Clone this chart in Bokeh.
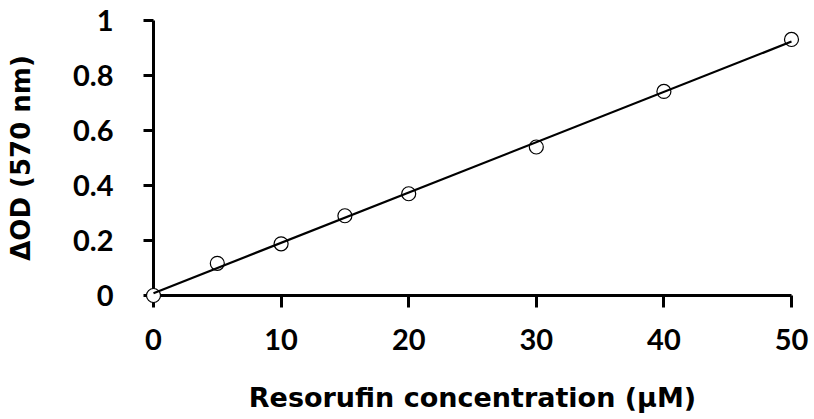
import numpy as np
from bokeh.plotting import figure
from bokeh.models import Range1d, FixedTicker, ColumnDataSource
from bokeh.embed import file_html
from bokeh.resources import INLINE

# Data
conc = [0, 5, 10, 15, 20, 30, 40, 50]
delta_od = [0.0, 0.117, 0.188, 0.29, 0.37, 0.54, 0.742, 0.931]
x_ticks = [0, 10, 20, 30, 40, 50]
y_ticks = [0, 0.2, 0.4, 0.6, 0.8, 1.0]
y_tick_labels = {0: "0", 0.2: "0.2", 0.4: "0.4", 0.6: "0.6", 0.8: "0.8", 1.0: "1"}
x_title = "Resorufin concentration (\u03bcM)"
y_title = "\u0394OD (570 nm)"

slope, intercept = np.polyfit(conc, delta_od, 1)
fit_x = [min(conc), max(conc)]
fit_y = [intercept + slope * v for v in fit_x]

H = 415
TOP = 20
FH = 275

p = figure(width=812, height=H, output_backend="svg", toolbar_location=None,
           x_range=Range1d(0, 50), y_range=Range1d(0, 1),
           min_border_left=153, min_border_top=TOP, min_border_right=21,
           min_border_bottom=H - TOP - FH)
p.outline_line_color = None
p.grid.visible = False
p.background_fill_color = "white"

for ax in (p.xaxis[0], p.yaxis[0]):
    ax.axis_line_width = 3
    ax.axis_line_color = "black"
    ax.major_tick_line_width = 3
    ax.major_tick_line_color = "black"
    ax.major_tick_in = 0
    ax.minor_tick_line_color = None
    ax.major_label_text_font = "Lato"
    ax.major_label_text_font_style = "bold"
    ax.major_label_text_font_size = "29px"
    ax.major_label_text_color = "black"
    ax.axis_label_text_font = "DejaVu Sans"
    ax.axis_label_text_font_style = "bold"
    ax.axis_label_text_color = "black"

p.xaxis[0].major_tick_out = 12
p.yaxis[0].major_tick_out = 10
p.xaxis[0].ticker = FixedTicker(ticks=x_ticks)
p.yaxis[0].ticker = FixedTicker(ticks=y_ticks)
p.yaxis[0].major_label_overrides = y_tick_labels
p.xaxis[0].major_label_standoff = 21
p.yaxis[0].major_label_standoff = 30

p.xaxis[0].axis_label = x_title
p.xaxis[0].axis_label_text_font_size = "27px"
p.xaxis[0].axis_label_standoff = 29

p.yaxis[0].axis_label = y_title
p.yaxis[0].axis_label_text_font_size = "26px"
p.yaxis[0].axis_label_standoff = 34

src = ColumnDataSource(dict(x=conc, y=delta_od))
r1 = p.scatter("x", "y", source=src, size=14, marker="circle",
               fill_color="white", line_color="black", line_width=1.2)
r1.level = "annotation"
r2 = p.line(fit_x, fit_y, line_color="black", line_width=2.2)
r2.level = "overlay"

open("out.html", "w").write(file_html(p, INLINE))
